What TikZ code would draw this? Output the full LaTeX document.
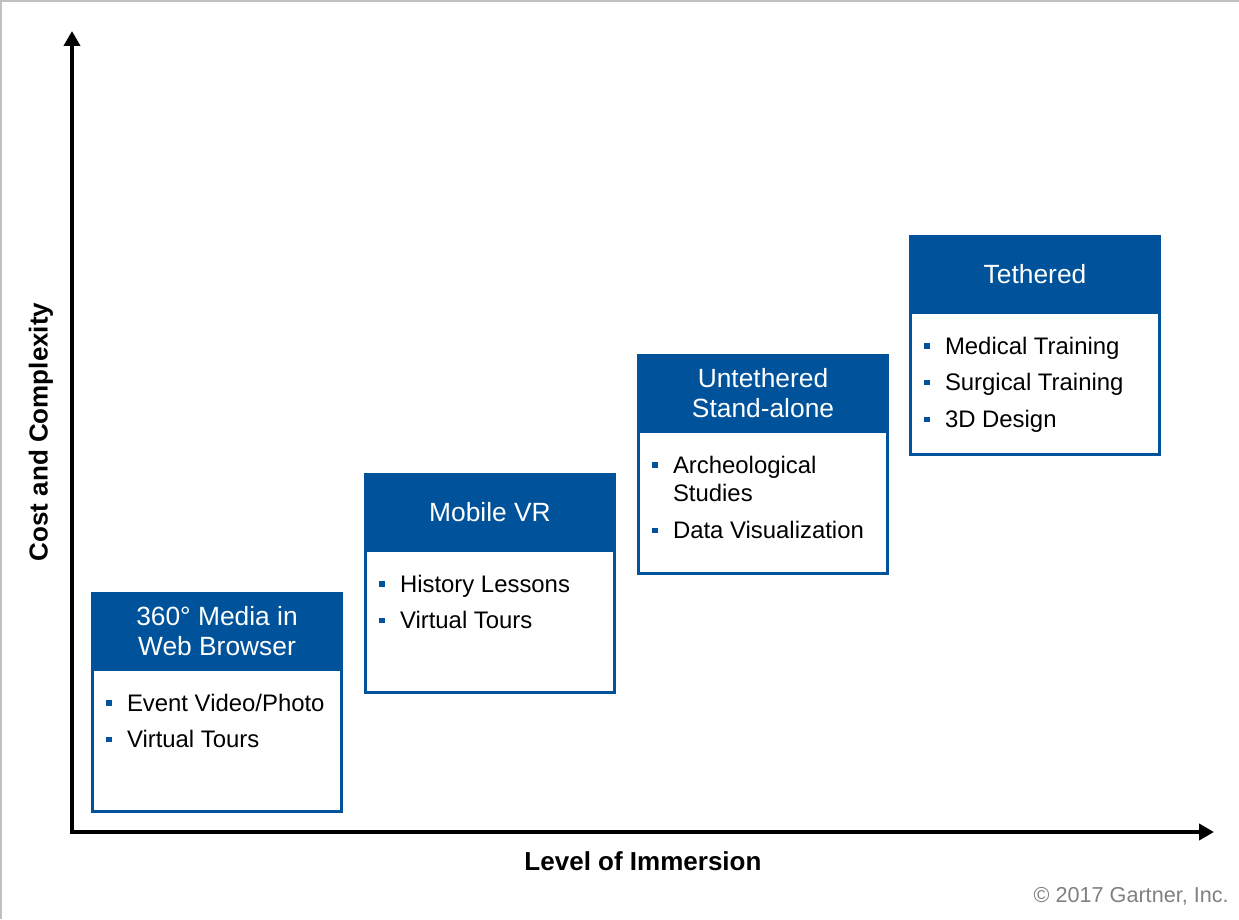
\documentclass[tikz,border=0pt]{standalone}
\usepackage{fontspec}
\setmainfont{Liberation Sans}
\usetikzlibrary{arrows.meta,positioning}

\definecolor{vrblue}{RGB}{0,83,155}
\definecolor{framegray}{RGB}{192,192,192}
\definecolor{notegray}{RGB}{128,128,128}

% small square bullet and list lines for the box bodies
\newcommand{\vrsq}{\textcolor{vrblue}{\rule[0.11cm]{0.11cm}{0.11cm}}}
\newcommand{\vritem}[1]{\hspace*{0.27cm}\makebox[0.42cm][l]{\vrsq}#1}
\newcommand{\vrmore}[1]{\hspace*{0.69cm}#1}
\newcommand{\vrlist}[1]{\parbox[t][2.84cm][t]{4.98cm}{\fontsize{13.6}{16.4}\selectfont\rule{0pt}{0.83cm}#1}}

\tikzset{
  head/.style={fill=vrblue, draw=vrblue, line width=1.7pt, text=white, align=center,
    minimum width=4.98cm, minimum height=1.52cm, inner sep=0pt, outer sep=0pt,
    font=\fontsize{15}{17}\selectfont},
  body/.style={draw=vrblue, line width=1.7pt, fill=white, inner sep=0pt, outer sep=0pt},
  axis/.style={line width=2.3pt, {Triangle[length=0.3cm,width=0.32cm]}-{Triangle[length=0.3cm,width=0.32cm]}},
  axlabel/.style={font=\fontsize{14.8}{17}\selectfont\bfseries}
}

\begin{document}
\begin{tikzpicture}
        \useasboundingbox (-1.44,-1.74) rectangle (23.34,16.64);
        \draw[framegray, line width=1.1pt] (-1.42,-1.74) -- (-1.42,16.62) -- (23.34,16.62);

        % axes
        \coordinate (O) at (0,0);
        \coordinate (ytop) at (0,16.02);
        \coordinate (xend) at (22.84,0);
        \draw[axis] (ytop) -- (O) -- (xend);
        \node[axlabel, rotate=90] (ylab) at (-0.62,8.0) {Cost and Complexity};
        \node[axlabel] (xlab) at (11.42,-0.58) {Level of Immersion};

        % boxes
        \node[head] (web) at (2.90,4.01) {360° Media in\\Web Browser};
        \node[body, below=0pt of web] (webbody) {\vrlist{\vritem{Event Video/Photo}\\[0.16cm]\vritem{Virtual Tours}}};

        \node[head] (mobile) at (8.36,6.39) {Mobile VR};
        \node[body, below=0pt of mobile] (mobilebody) {\vrlist{\vritem{History Lessons}\\[0.16cm]\vritem{Virtual Tours}}};

        \node[head] (standalone) at (13.82,8.77) {Untethered\\Stand-alone};
        \node[body, below=0pt of standalone] (standalonebody) {\vrlist{\vritem{Archeological}\\\vrmore{Studies}\\[0.16cm]\vritem{Data Visualization}}};

        \node[head] (tethered) at (19.26,11.15) {Tethered};
        \node[body, below=0pt of tethered] (tetheredbody) {\vrlist{\vritem{Medical Training}\\[0.16cm]\vritem{Surgical Training}\\[0.16cm]\vritem{3D Design}}};

        \node[anchor=east, inner sep=0pt, text=notegray, font=\fontsize{12.3}{14}\selectfont] (note) at (23.14,-1.28) {© 2017 Gartner, Inc.};
\end{tikzpicture}
\end{document}
